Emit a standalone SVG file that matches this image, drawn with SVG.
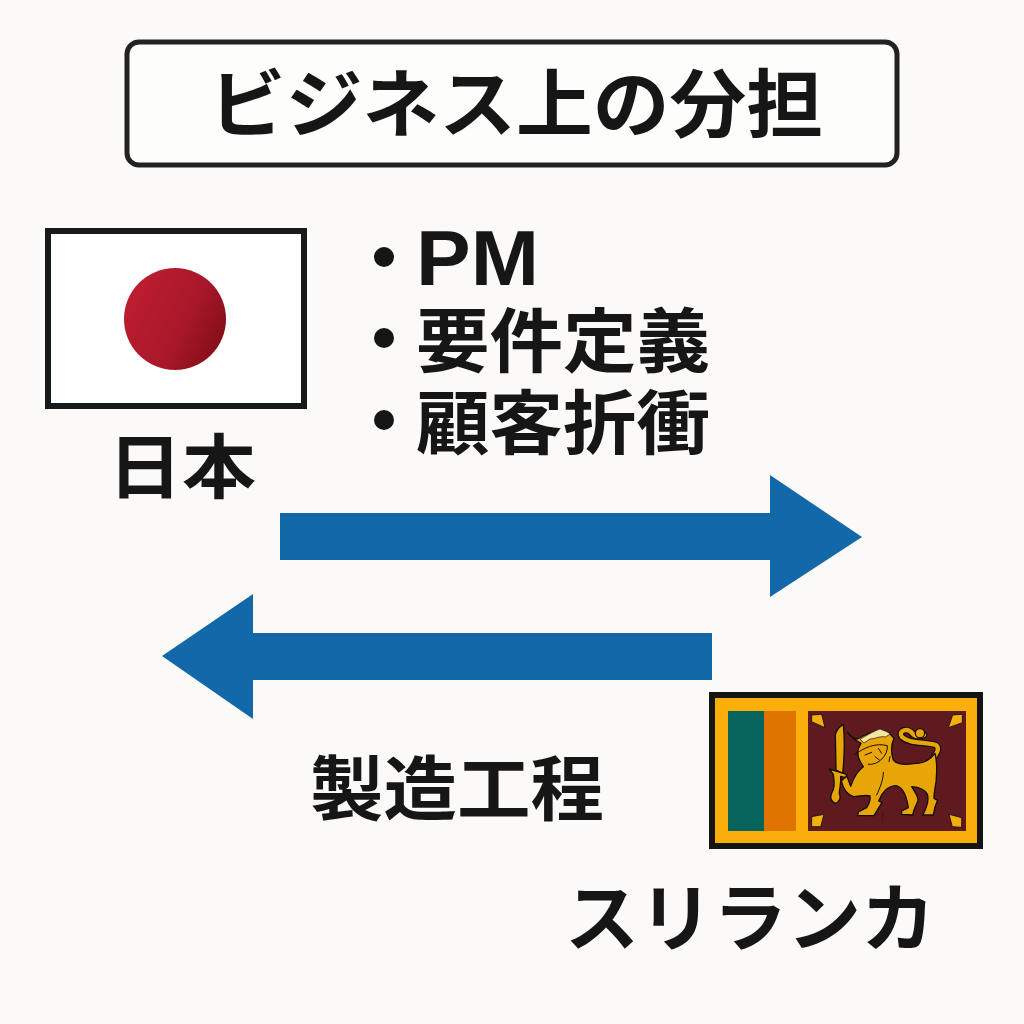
<svg xmlns="http://www.w3.org/2000/svg" width="1024" height="1024" viewBox="0 0 1024 1024">
<defs><linearGradient id="sun" x1="0.1" y1="0.3" x2="1" y2="0.75"><stop offset="0" stop-color="#bb1c30"/><stop offset="0.55" stop-color="#a8182a"/><stop offset="1" stop-color="#820c18"/></linearGradient></defs>
<style>
text{font-family:"Noto Sans CJK JP","Noto Sans",sans-serif;font-weight:700;fill:#161616}
.latin{font-family:"Liberation Sans",Arial,sans-serif}
.arrow{fill:#1268a8}
.gold{fill:#e8a508;stroke:#160c08;stroke-width:4;stroke-linejoin:round}
.ink{fill:none;stroke:#160c08;stroke-width:3;stroke-linecap:round}
.corner{fill:#f2b010;stroke:#160c08;stroke-width:2.5;stroke-linejoin:round}
</style>
<rect width="1024" height="1024" fill="#fbfaf8"/>
<g id="title"><rect x="127" y="42" width="770" height="123" rx="12" fill="#fdfdfb" stroke="#222" stroke-width="5"/>
<text x="516" y="131" font-size="74" text-anchor="middle" textLength="614" lengthAdjust="spacingAndGlyphs">ビジネス上の分担</text></g>
<g id="japan"><rect x="48" y="231" width="256" height="175" fill="#fff" stroke="#161a1a" stroke-width="6"/><circle cx="175" cy="319" r="51" fill="url(#sun)"/>
<text x="182" y="493" font-size="70" text-anchor="middle" textLength="148" lengthAdjust="spacingAndGlyphs">日本</text></g>
<g id="tasks"><circle cx="384" cy="257" r="10" fill="#161616"/><circle cx="384" cy="338" r="10" fill="#161616"/><circle cx="384" cy="420" r="10" fill="#161616"/>
<text class="latin" x="416" y="285" font-size="77" textLength="123" lengthAdjust="spacingAndGlyphs">PM</text>
<text x="416" y="367" font-size="70" textLength="294" lengthAdjust="spacingAndGlyphs">要件定義</text>
<text x="416" y="449" font-size="70" textLength="294" lengthAdjust="spacingAndGlyphs">顧客折衝</text></g>
<g id="connectors"><path class="arrow" d="M280 513H770V475L862 537L770 597V560H280Z"/><path class="arrow" d="M712 633H253V594L162 656L253 719V680H712Z"/></g>
<g id="manufacturing"><text x="457" y="815" font-size="70" text-anchor="middle" textLength="294" lengthAdjust="spacingAndGlyphs">製造工程</text></g>
<g id="srilanka"><rect x="712" y="695" width="268" height="151" fill="#f9ae0a" stroke="#141414" stroke-width="6"/>
<rect x="728" y="711" width="36" height="120" fill="#06645c"/><rect x="764" y="711" width="32" height="120" fill="#e07400"/>
<rect x="808" y="711" width="158" height="120" fill="#5f1a20"/>
<g transform="translate(700 680) scale(.33333)">
<path class="corner" d="M335 105L365 103L375 143L335 125ZM787 103L758 105L745 143L787 128ZM335 410L372 403L362 440L335 440ZM747 403L785 413L785 442L757 440Z"/>
</g>
<g transform="translate(800 715) scale(.33333)">
<path class="gold" d="M130 28C118 35 108 48 106 60L108 165L128 175C134 120 134 70 130 28Z"/>
<path fill="none" stroke="#160c08" stroke-width="20" stroke-linecap="round" stroke-linejoin="round" d="M398 132C412 112 420 100 408 90C375 80 330 88 306 66C292 46 322 38 336 54C346 66 356 66 372 60"/>
<path fill="none" stroke="#e8a508" stroke-width="13" stroke-linecap="round" stroke-linejoin="round" d="M398 132C412 112 420 100 408 90C375 80 330 88 306 66C292 46 322 38 336 54C346 66 356 66 372 60"/>
<circle cx="360" cy="55" r="14" fill="#e8a508" stroke="#160c08" stroke-width="4"/>
<path class="gold" d="M143 52C150 62 160 70 172 72C195 58 230 42 268 54L282 70C275 85 272 110 280 135C290 148 310 150 340 146C365 146 390 135 405 115C412 140 412 190 404 226C402 236 402 245 402 250L413 256L405 276L400 300H368L375 286C382 270 386 250 382 238C375 225 360 217 335 215C345 232 356 245 354 258C348 270 342 280 338 300L305 298V288L325 278C322 258 318 240 308 226C300 216 295 212 285 212C268 214 255 224 246 238L236 258L246 262L222 302H172L176 290L200 278C208 265 212 255 210 243C195 238 178 245 160 245C140 238 130 225 124 198L140 182C146 195 148 205 152 214C158 195 170 170 190 155C180 140 170 125 175 100L183 85C170 78 155 70 143 52Z"/>
<path class="gold" d="M88 162L140 178L137 188L122 184C124 205 118 222 118 235C124 250 118 262 105 265C92 258 90 245 96 232C104 222 104 205 100 178Z"/>
<path d="M180 72C195 66 215 50 240 42C255 48 268 52 270 58L256 66C240 62 225 72 210 72L192 84Z" fill="#f4e6a0" stroke="#160c08" stroke-width="2"/>
<path class="ink" d="M165 118C190 100 225 82 262 92C265 120 235 152 205 148M195 120L215 112M250 172C250 195 240 218 230 240M270 125L267 140M235 100L245 115M225 125L238 135"/>
<path d="M248 290V322" stroke="#160c08" stroke-width="2" fill="none" opacity=".6"/>
</g>
<text x="750" y="945" font-size="74" text-anchor="middle" textLength="370" lengthAdjust="spacingAndGlyphs">スリランカ</text></g>
</svg>
